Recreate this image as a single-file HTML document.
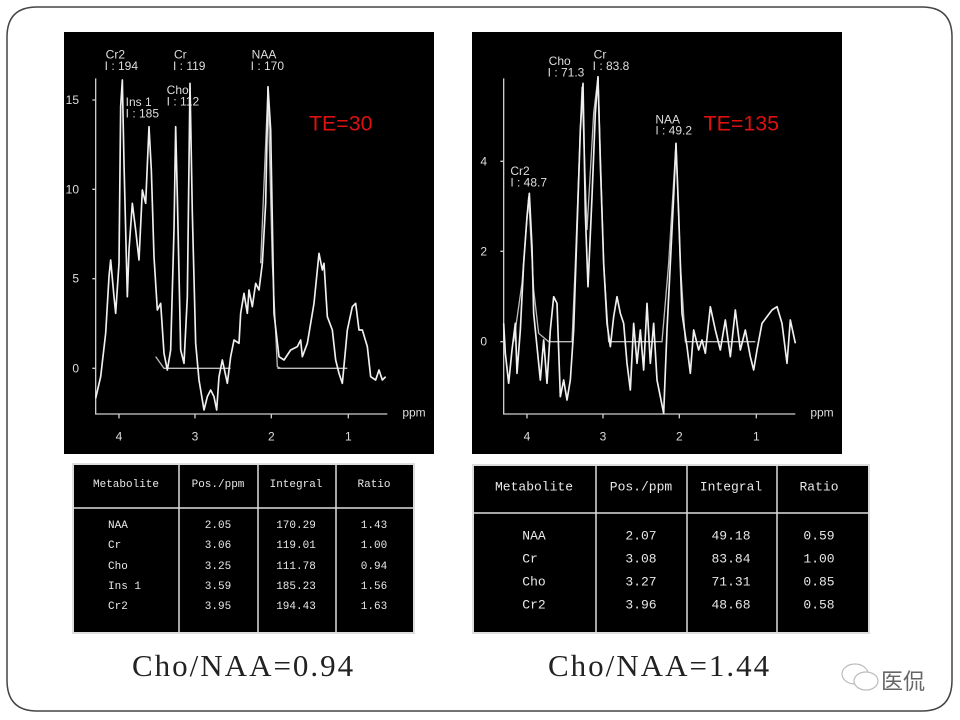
<!DOCTYPE html>
<html><head><meta charset="utf-8"><style>
html,body{margin:0;padding:0;background:#fff;width:960px;height:720px;overflow:hidden;position:relative;font-family:"Liberation Sans",sans-serif}
.abs{position:absolute}
.panel{position:absolute;background:#000}
.tbl{position:absolute;background:#000;border:2px solid #ddd;box-sizing:border-box}
.t{position:absolute;color:#e8e8e8;font-family:"Liberation Mono","DejaVu Sans Mono",monospace;white-space:nowrap;transform:translate(-50%,-50%)}
.cap{position:absolute;font-family:"Liberation Serif","Noto Serif CJK SC",serif;font-size:31px;color:#222;letter-spacing:2px;white-space:nowrap}
</style></head><body>
<svg class="abs" style="left:0;top:0" width="960" height="720">
<path d="M37 7 H922 Q952 7 952 37 V680 Q952 711 922 711 H37 Q7 711 7 680 V37 Q7 7 37 7 Z" fill="none" stroke="#444" stroke-width="1.5"/>
</svg>

<div class="panel" style="left:64px;top:32px;width:370px;height:422px"></div>
<svg class="abs" style="left:64px;top:30px" width="370" height="425" viewBox="0 0 1110 1275">
<g fill="#ddd" font-size="36" font-family="Liberation Sans,sans-serif">
<path d="M95 145 V1152 H970" fill="none" stroke="#ccc" stroke-width="4"/>
<path d="M85 210H95M85 478H95M85 746H95M85 1015H95M165 1152V1165M393 1152V1165M622 1152V1165M853 1152V1165" stroke="#ccc" stroke-width="4"/>
<text x="5" y="222">15</text><text x="5" y="490">10</text><text x="25" y="758">5</text><text x="25" y="1027">0</text>
<text x="155" y="1232">4</text><text x="383" y="1232">3</text><text x="612" y="1232">2</text><text x="843" y="1232">1</text>
<text x="1015" y="1160">ppm</text>
<text x="125" y="85">Cr2</text><text x="122" y="120">I : 194</text>
<text x="330" y="85">Cr</text><text x="327" y="120">I : 119</text>
<text x="563" y="85">NAA</text><text x="560" y="120">I : 170</text>
<text x="185" y="228">Ins 1</text><text x="185" y="262">I : 185</text>
<text x="308" y="192">Chol</text><text x="308" y="226">I : 112</text>
</g>
<text x="735" y="302" fill="#e01010" font-size="64" font-family="Liberation Sans,sans-serif">TE=30</text>
<polyline fill="none" stroke="#bbb" stroke-width="4" points="640,1015 850,1015"/>
<polyline fill="none" stroke="#bbb" stroke-width="4" points="275,980 300,1015 400,1015 500,1015"/>
<polyline fill="none" stroke="#bbb" stroke-width="4" points="590,700 612,175 625,700 640,1010 650,1015"/>
<polyline fill="none" stroke="#f0f0f0" stroke-width="5" stroke-linejoin="round" points="95,1105 110,1040 125,910 135,740 140,690 150,800 155,850 165,700 170,230 175,150 180,400 190,800 195,660 205,520 215,600 225,690 235,480 245,520 255,290 262,420 270,680 280,840 290,820 300,970 310,1020 320,960 330,600 335,290 340,500 350,960 360,1000 370,800 378,160 385,550 395,940 405,1050 420,1140 430,1100 440,1080 450,1100 458,1140 465,1040 475,990 490,1060 500,980 510,930 525,940 530,850 540,790 550,850 555,780 565,830 575,760 585,780 595,700 605,520 612,170 620,300 630,850 645,980 660,990 680,960 700,950 710,930 715,980 730,940 750,820 765,670 775,720 780,700 790,860 805,900 815,990 825,1030 835,1060 850,900 865,830 875,820 885,900 895,900 910,950 920,1040 935,1050 945,1020 955,1050 965,1040"/>
</svg>

<div class="panel" style="left:472px;top:32px;width:370px;height:422px"></div>
<svg class="abs" style="left:472px;top:30px" width="370" height="425" viewBox="0 0 1110 1275">
<g fill="#ddd" font-size="36" font-family="Liberation Sans,sans-serif">
<path d="M95 145 V1152 H970" fill="none" stroke="#ccc" stroke-width="4"/>
<path d="M85 394H95M85 664H95M85 935H95M165 1152V1165M393 1152V1165M622 1152V1165M853 1152V1165" stroke="#ccc" stroke-width="4"/>
<text x="25" y="406">4</text><text x="25" y="676">2</text><text x="25" y="947">0</text>
<text x="155" y="1232">4</text><text x="383" y="1232">3</text><text x="612" y="1232">2</text><text x="843" y="1232">1</text>
<text x="1015" y="1160">ppm</text>
<text x="230" y="105">Cho</text><text x="227" y="140">I : 71.3</text>
<text x="365" y="85">Cr</text><text x="362" y="120">I : 83.8</text>
<text x="550" y="280">NAA</text><text x="550" y="314">I : 49.2</text>
<text x="115" y="435">Cr2</text><text x="115" y="470">I : 48.7</text>
</g>
<text x="695" y="302" fill="#e01010" font-size="64" font-family="Liberation Sans,sans-serif">TE=135</text>
<polyline fill="none" stroke="#bbb" stroke-width="4" points="125,935 150,760 170,500 185,780 200,910 230,935 300,935 310,700 330,170 345,600 365,250 378,140 395,700 410,935 570,935 590,700 612,340 625,700 640,935 850,935"/>
<polyline fill="none" stroke="#f0f0f0" stroke-width="5" stroke-linejoin="round" points="95,880 100,970 110,1060 120,960 130,880 135,1030 145,900 155,700 165,560 172,490 180,650 185,850 195,950 205,1050 215,930 225,1060 235,900 245,800 255,820 265,1100 275,1050 285,1110 295,1050 305,900 315,600 325,300 333,160 340,550 348,770 360,500 370,250 378,140 385,400 395,700 405,880 415,950 425,860 435,800 445,850 455,880 465,1000 475,1080 485,880 495,1000 505,900 515,1020 525,820 535,1000 545,880 555,1050 565,1100 575,1150 585,900 595,700 605,500 612,340 620,550 630,850 645,950 655,1030 665,900 680,960 690,930 700,970 715,830 730,900 745,960 760,870 775,980 790,840 805,960 820,900 835,980 845,1020 855,960 870,880 885,860 900,840 915,830 930,880 945,1000 955,870 970,940"/>
</svg>

<div class="tbl" style="left:72px;top:463px;width:343px;height:171px"></div>
<div class="tbl" style="left:472px;top:464px;width:398px;height:170px"></div>
<svg class="abs" style="left:0;top:0" width="960" height="720">
<path d="M179 464V633M258 464V633M336 464V633M73 508H414" stroke="#ddd" stroke-width="1.5"/>
<path d="M596 465V632M687 465V632M777 465V632M473 513H869" stroke="#ddd" stroke-width="1.5"/>
</svg>
<div style="font-size:11px">
<div class="t" style="left:126px;top:485px">Metabolite</div><div class="t" style="left:218px;top:485px">Pos./ppm</div><div class="t" style="left:296px;top:485px">Integral</div><div class="t" style="left:374px;top:485px">Ratio</div>
<div class="t" style="left:108px;top:526px;transform:translate(0,-50%)">NAA</div><div class="t" style="left:218px;top:526px">2.05</div><div class="t" style="left:296px;top:526px">170.29</div><div class="t" style="left:374px;top:526px">1.43</div>
<div class="t" style="left:108px;top:546px;transform:translate(0,-50%)">Cr</div><div class="t" style="left:218px;top:546px">3.06</div><div class="t" style="left:296px;top:546px">119.01</div><div class="t" style="left:374px;top:546px">1.00</div>
<div class="t" style="left:108px;top:567px;transform:translate(0,-50%)">Cho</div><div class="t" style="left:218px;top:567px">3.25</div><div class="t" style="left:296px;top:567px">111.78</div><div class="t" style="left:374px;top:567px">0.94</div>
<div class="t" style="left:108px;top:587px;transform:translate(0,-50%)">Ins 1</div><div class="t" style="left:218px;top:587px">3.59</div><div class="t" style="left:296px;top:587px">185.23</div><div class="t" style="left:374px;top:587px">1.56</div>
<div class="t" style="left:108px;top:607px;transform:translate(0,-50%)">Cr2</div><div class="t" style="left:218px;top:607px">3.95</div><div class="t" style="left:296px;top:607px">194.43</div><div class="t" style="left:374px;top:607px">1.63</div>
</div>

<div style="font-size:13px">
<div class="t" style="left:534px;top:487px">Metabolite</div><div class="t" style="left:641px;top:487px">Pos./ppm</div><div class="t" style="left:731px;top:487px">Integral</div><div class="t" style="left:819px;top:487px">Ratio</div>
<div class="t" style="left:534px;top:536px">NAA</div><div class="t" style="left:641px;top:536px">2.07</div><div class="t" style="left:731px;top:536px">49.18</div><div class="t" style="left:819px;top:536px">0.59</div>
<div class="t" style="left:530px;top:559px">Cr</div><div class="t" style="left:641px;top:559px">3.08</div><div class="t" style="left:731px;top:559px">83.84</div><div class="t" style="left:819px;top:559px">1.00</div>
<div class="t" style="left:534px;top:582px">Cho</div><div class="t" style="left:641px;top:582px">3.27</div><div class="t" style="left:731px;top:582px">71.31</div><div class="t" style="left:819px;top:582px">0.85</div>
<div class="t" style="left:534px;top:605px">Cr2</div><div class="t" style="left:641px;top:605px">3.96</div><div class="t" style="left:731px;top:605px">48.68</div><div class="t" style="left:819px;top:605px">0.58</div>
</div>

<div class="cap" style="left:132px;top:648px">Cho/NAA=0.94</div>
<div class="cap" style="left:548px;top:648px">Cho/NAA=1.44</div>

<svg class="abs" style="left:835px;top:660px" width="50" height="36">
<ellipse cx="20" cy="14" rx="13" ry="10" fill="none" stroke="#bbb" stroke-width="1.2"/>
<ellipse cx="31" cy="21" rx="12" ry="9" fill="#fff" stroke="#bbb" stroke-width="1.2"/>
</svg>
<div class="abs" style="left:881px;top:664px;font-family:'Noto Sans CJK SC',sans-serif;font-size:22px;color:#666">医侃</div>
</body></html>
